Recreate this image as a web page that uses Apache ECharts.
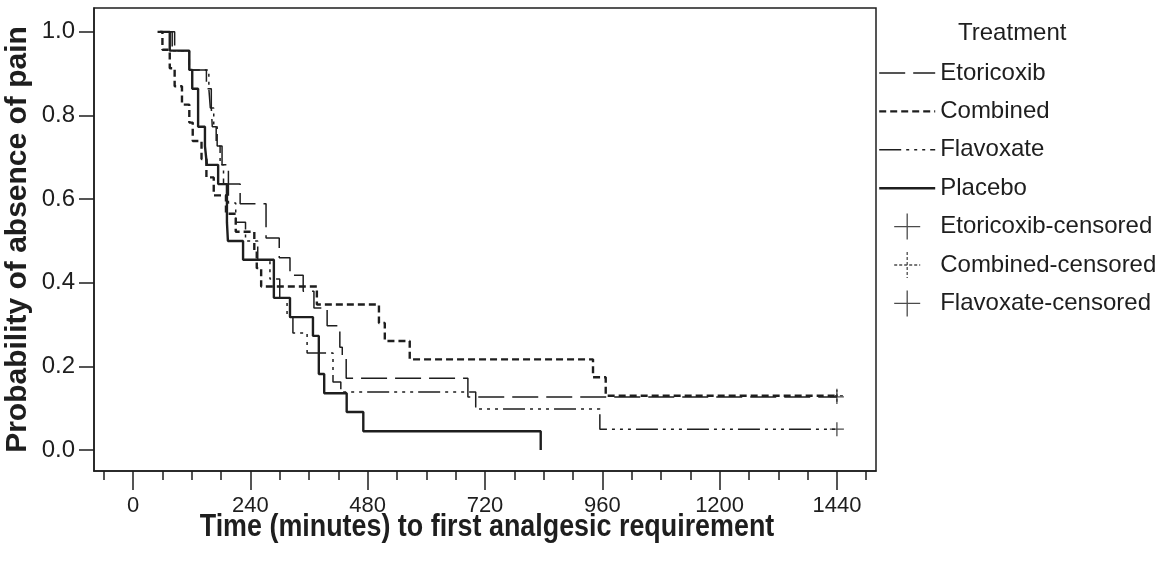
<!DOCTYPE html>
<html><head><meta charset="utf-8">
<script src="https://cdn.jsdelivr.net/npm/echarts@6/dist/echarts.min.js"></script>
<style>html,body{margin:0;padding:0;background:#fff}#c{width:1176px;height:562px}</style>
</head><body><div id="c"></div>
<script>
// ---- text ----
const legendTitle = 'Treatment';
const xTitle = 'Time (minutes) to first analgesic requirement';
const yTitle = 'Probability of absence of pain';
const seriesNames = ['Etoricoxib', 'Combined', 'Flavoxate', 'Placebo'];
const censoredNames = ['Etoricoxib-censored', 'Combined-censored', 'Flavoxate-censored'];

// ---- ticks ----
const xMajorTicks = [0, 240, 480, 720, 960, 1200, 1440];
const xMinorTicks = [-60, 0, 60, 120, 180, 240, 300, 360, 420, 480, 540, 600, 660, 720, 780, 840, 900, 960, 1020, 1080, 1140, 1200, 1260, 1320, 1380, 1440, 1500];
const yTicks = [0, 0.2, 0.4, 0.6, 0.8, 1.0];

// ---- Kaplan-Meier step data (time in minutes, survival) ----
const timesEtoricoxib = [60, 85, 115, 150, 160, 162, 170, 182, 195, 219, 272, 299, 321, 348, 370, 397, 423, 428, 436, 685, 1440];
const survEtoricoxib  = [1.0, 0.955, 0.909, 0.864, 0.818, 0.773, 0.727, 0.682, 0.636, 0.589, 0.507, 0.46, 0.418, 0.38, 0.34, 0.297, 0.246, 0.222, 0.172, 0.127, 0.127];

const timesCombined = [50, 60, 75, 85, 100, 115, 122, 140, 150, 165, 190, 210, 248, 253, 262, 376, 503, 515, 566, 941, 967, 1440];
const survCombined  = [1.0, 0.957, 0.913, 0.87, 0.826, 0.783, 0.739, 0.696, 0.652, 0.609, 0.565, 0.522, 0.478, 0.435, 0.391, 0.348, 0.304, 0.261, 0.217, 0.174, 0.13, 0.13];

const timesFlavoxate = [65, 80, 115, 155, 158, 165, 172, 178, 185, 195, 210, 230, 255, 280, 300, 315, 327, 356, 409, 425, 701, 955, 1440];
const survFlavoxate  = [1.0, 0.955, 0.909, 0.864, 0.818, 0.773, 0.727, 0.682, 0.636, 0.591, 0.545, 0.5, 0.455, 0.409, 0.364, 0.318, 0.28, 0.232, 0.163, 0.139, 0.098, 0.05, 0.05];

const timesPlacebo = [55, 75, 115, 121, 133, 147, 151, 174, 192, 194, 225, 288, 321, 368, 380, 391, 437, 471, 834];
const survPlacebo  = [1.0, 0.955, 0.909, 0.864, 0.773, 0.727, 0.682, 0.636, 0.545, 0.5, 0.455, 0.364, 0.318, 0.273, 0.182, 0.136, 0.091, 0.045, 0.0];

// censored observations
const censorTimesEtoricoxib = [1440];
const censorSurvEtoricoxib  = [0.127];
const censorTimesCombined = [1440];
const censorSurvCombined  = [0.13];
const censorTimesFlavoxate = [1440];
const censorSurvFlavoxate  = [0.05];

// ---- styling ----
const SANS = "'Liberation Sans', Arial, sans-serif";
const INK = '#1e1e1e';
const PLUS = 'path://M0,7L14,7M7,0L7,14';

function pairs(ts, ss) { return ts.map((t, i) => [t, ss[i]]); }

const lineDefs = [
  { name: seriesNames[0], data: pairs(timesEtoricoxib, survEtoricoxib), width: 1.5, type: [26, 8] },
  { name: seriesNames[1], data: pairs(timesCombined, survCombined), width: 2.4, type: [7, 4] },
  { name: seriesNames[2], data: pairs(timesFlavoxate, survFlavoxate), width: 1.5, type: [22, 5, 3, 5, 3, 5, 3, 5] },
  { name: seriesNames[3], data: pairs(timesPlacebo, survPlacebo), width: 2.4, type: 'solid' }
];
const censorDefs = [
  { name: censoredNames[0], data: pairs(censorTimesEtoricoxib, censorSurvEtoricoxib), btype: 'solid' },
  { name: censoredNames[1], data: pairs(censorTimesCombined, censorSurvCombined), btype: [3, 2] },
  { name: censoredNames[2], data: pairs(censorTimesFlavoxate, censorSurvFlavoxate), btype: 'solid' }
];

const series = lineDefs.map(d => ({
  name: d.name, type: 'line', step: 'end', symbol: 'none', data: d.data,
  xAxisIndex: 0, yAxisIndex: 0,
  lineStyle: { color: INK, width: d.width, type: d.type },
  itemStyle: { color: INK },
  emphasis: { disabled: true }, silent: true
})).concat(censorDefs.map(d => ({
  name: d.name, type: 'scatter', symbol: PLUS, symbolSize: 14, data: d.data,
  xAxisIndex: 0, yAxisIndex: 0,
  itemStyle: { color: 'transparent', borderColor: INK, borderWidth: 1.3, borderType: d.btype },
  emphasis: { disabled: true }, silent: true
})));

const legendData = seriesNames.map(n => ({ name: n, itemStyle: { color: 'transparent', borderColor: 'transparent', borderWidth: 0 } }))
  .concat(censorDefs.map(d => ({ name: d.name, itemStyle: { borderWidth: 1.3, borderType: d.btype } })));

const chart = echarts.init(document.getElementById('c'), null, { renderer: 'canvas' });
chart.setOption({
  animation: false,
  backgroundColor: '#fff',
  title: {
    text: legendTitle, left: 958, top: 21, padding: 0,
    textStyle: { fontSize: 24, fontWeight: 'normal', color: INK, fontFamily: SANS }
  },
  legend: {
    orient: 'vertical', left: 878, top: 58, padding: 0,
    itemWidth: 56, itemHeight: 26, itemGap: 8.4,
    data: legendData,
    textStyle: { fontSize: 24, lineHeight: 30, color: INK, fontFamily: SANS },
    lineStyle: { width: 'inherit' },
    selectedMode: false
  },
  grid: {
    left: 94, right: 300, top: 8, bottom: 91,
    outerBoundsMode: 'none', containLabel: false,
    show: true, borderColor: INK, borderWidth: 1.5, backgroundColor: '#fff'
  },
  graphic: [{
    type: 'text', x: 487, y: 527, scaleX: 0.84, scaleY: 1, silent: true,
    style: { text: xTitle, align: 'center', verticalAlign: 'middle', fill: INK,
      font: "bold 32px 'Liberation Sans', Arial, sans-serif" }
  }],
  xAxis: [
    {
      type: 'value', min: -80, max: 1520, position: 'bottom',
      axisLine: { show: true, onZero: false, lineStyle: { color: INK, width: 1.5 } },
      axisTick: { show: true, customValues: xMinorTicks, length: 9, lineStyle: { color: INK, width: 1.5 } },
      axisLabel: { show: false },
      splitLine: { show: false }
    },
    {
      type: 'value', min: -80, max: 1520, position: 'bottom',
      axisLine: { show: false, onZero: false },
      axisTick: { show: true, customValues: xMajorTicks, length: 19, lineStyle: { color: INK, width: 1.5 } },
      axisLabel: { show: true, customValues: xMajorTicks, margin: 24, fontSize: 22, color: INK, fontFamily: SANS,
        formatter: v => String(v) },
      splitLine: { show: false }
    }
  ],
  yAxis: {
    type: 'value', min: -0.05, max: 1.057, position: 'left',
    axisLine: { show: true, onZero: false, lineStyle: { color: INK, width: 1.5 } },
    axisTick: { show: true, customValues: yTicks, length: 15, lineStyle: { color: INK, width: 1.5 } },
    axisLabel: { show: true, customValues: yTicks, margin: 19, fontSize: 24, color: INK, fontFamily: SANS,
      formatter: v => Number(v).toFixed(1) },
    splitLine: { show: false },
    name: yTitle, nameLocation: 'middle', nameRotate: 90, nameGap: 61, nameMoveOverlap: false,
    nameTextStyle: { fontSize: 30, fontWeight: 'bold', color: INK, fontFamily: SANS }
  },
  series: series
});
</script>
</body></html>
